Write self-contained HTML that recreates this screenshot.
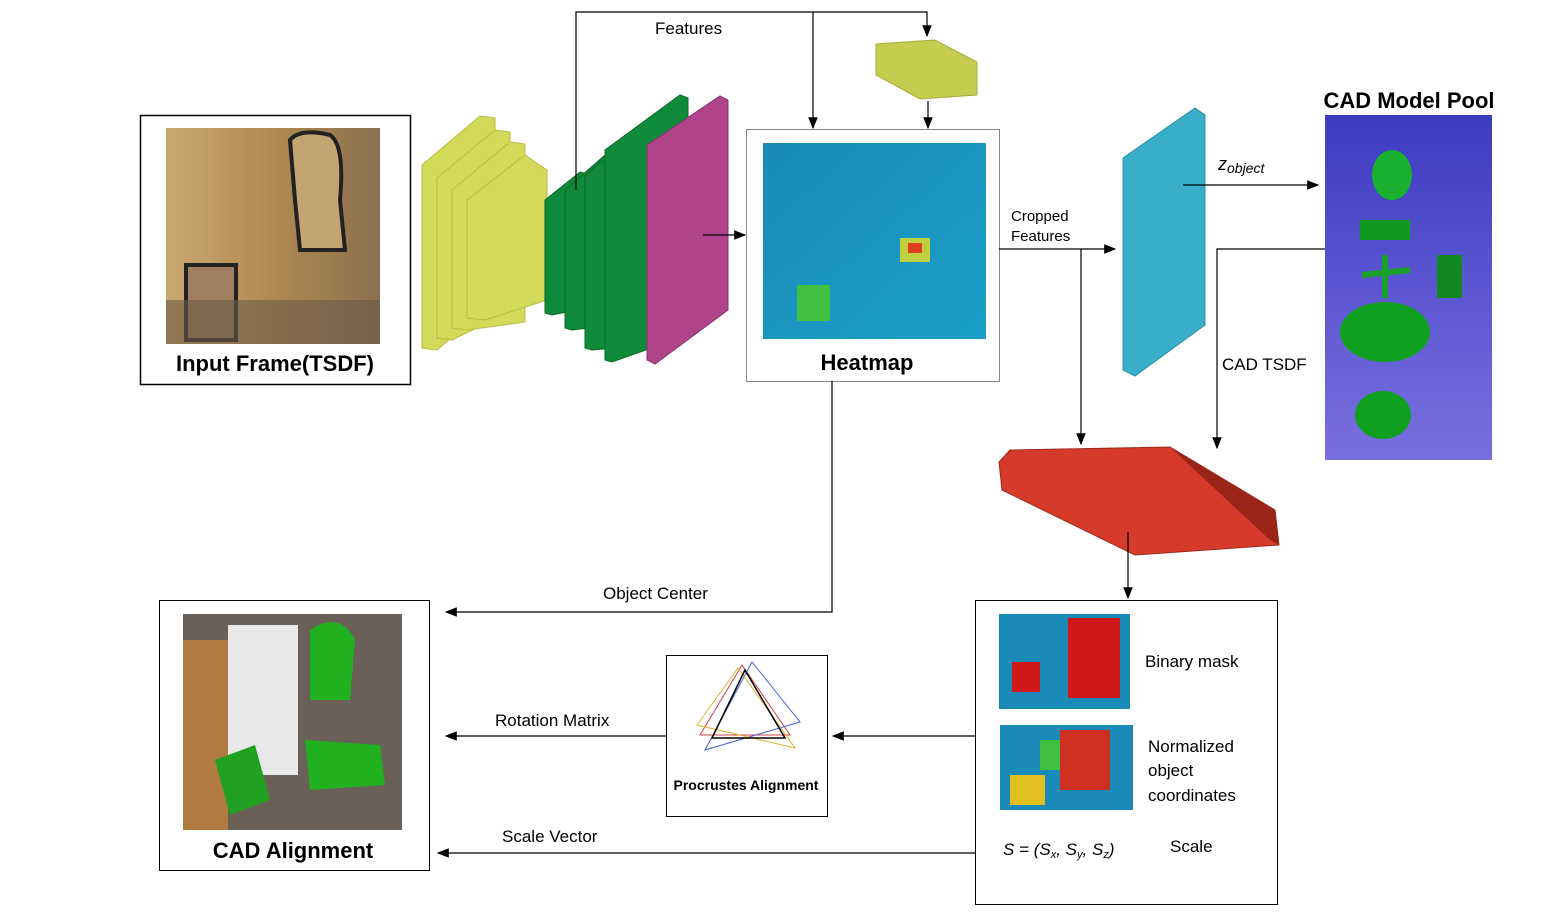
<!DOCTYPE html>
<html><head><meta charset="utf-8"><style>
body{margin:0;background:#fff;width:1559px;height:912px;overflow:hidden;font-family:"Liberation Sans",sans-serif}
svg text{font-family:"Liberation Sans",sans-serif}
</style></head><body>
<svg width="1559" height="912" viewBox="0 0 1559 912">
<defs>
<marker id="ar" markerWidth="10" markerHeight="8" refX="9" refY="4" orient="auto"><path d="M0,0L10,4L0,8z" fill="#000"/></marker>
<linearGradient id="pool" x1="0" y1="0" x2="0" y2="1"><stop offset="0" stop-color="#3c3cc0"/><stop offset="1" stop-color="#7a6fe0"/></linearGradient>
<linearGradient id="sand" x1="0" y1="0" x2="1" y2="0"><stop offset="0" stop-color="#c9a870"/><stop offset="0.5" stop-color="#b08a50"/><stop offset="1" stop-color="#8a7050"/></linearGradient>
<linearGradient id="heat" x1="0" y1="0" x2="1" y2="1"><stop offset="0" stop-color="#1a8ab8"/><stop offset="1" stop-color="#1aa0c8"/></linearGradient>
</defs>

<!-- Input frame -->
<g>
<rect x="140.5" y="115.5" width="270" height="269" fill="#fff" stroke="#000" stroke-width="1.5"/>
<rect x="166" y="128" width="214" height="216" fill="url(#sand)"/>
<path d="M290,140 Q300,128 330,135 Q345,145 340,200 L345,250 L300,250 L295,200Z" fill="#c4a470" stroke="#222" stroke-width="4"/>
<rect x="186" y="265" width="50" height="75" fill="#a08060" stroke="#222" stroke-width="4"/>
<rect x="166" y="300" width="214" height="44" fill="#6a5a48" opacity="0.6"/>
<text x="275" y="371" font-size="22" font-weight="bold" text-anchor="middle">Input Frame(TSDF)</text>
</g>

<!-- yellow encoder slabs -->
<g fill="#d4d95a" stroke="#b8bd40">
<path d="M422,165 L480,116 L495,118 L495,300 L437,350 L422,348Z"/>
<path d="M437,178 L495,130 L510,132 L510,312 L452,340 L437,338Z"/>
<path d="M452,190 L510,142 L525,144 L525,322 L467,330 L452,328Z"/>
<path d="M467,200 L525,155 L547,170 L547,300 L485,320 L467,318Z"/>
</g>
<!-- green -->
<g fill="#0e8a3a" stroke="#0a6a2a">
<path d="M545,200 L580,172 L587,174 L587,308 L552,315 L545,313Z"/>
<path d="M565,190 L605,155 L612,157 L612,325 L572,330 L565,328Z"/>
<path d="M585,175 L640,130 L648,132 L648,345 L592,350 L585,348Z"/>
<path d="M605,150 L680,95 L688,98 L688,335 L612,362 L605,360Z"/>
</g>
<path d="M647,145 L720,96 L728,100 L728,310 L655,364 L647,360Z" fill="#b0448a" stroke="#8a3070"/>

<!-- yellow small block -->
<path d="M876,44 L935,40 L977,62 L977,95 L920,99 L876,75Z" fill="#c6cc50" stroke="#a8ae38"/>

<!-- Heatmap -->
<g>
<rect x="746.5" y="129.5" width="253" height="252" fill="#fff" stroke="#888"/>
<rect x="763" y="143" width="223" height="196" fill="url(#heat)"/>
<rect x="797" y="285" width="33" height="36" fill="#40c040"/>
<rect x="900" y="238" width="30" height="24" fill="#c0d040"/>
<rect x="908" y="243" width="14" height="10" fill="#e04020"/>
<text x="867" y="370" font-size="22" font-weight="bold" text-anchor="middle">Heatmap</text>
</g>

<!-- Cyan slab -->
<path d="M1123,158 L1195,108 L1205,115 L1205,325 L1135,376 L1123,370Z" fill="#38aec8" stroke="#2890a8"/>

<!-- CAD pool -->
<g>
<rect x="1325" y="115" width="167" height="345" fill="url(#pool)"/>
<ellipse cx="1392" cy="175" rx="20" ry="25" fill="#1ab030"/>
<rect x="1360" y="220" width="50" height="20" fill="#119a20"/>
<rect x="1437" y="255" width="25" height="43" fill="#108a20"/>
<path d="M1362,275 L1410,270 M1385,255 L1385,298" stroke="#18a028" stroke-width="6"/>
<ellipse cx="1385" cy="332" rx="45" ry="30" fill="#10a020"/>
<ellipse cx="1383" cy="415" rx="28" ry="24" fill="#10a020"/>
<text x="1409" y="108" font-size="22" font-weight="bold" text-anchor="middle">CAD Model Pool</text>
</g>

<!-- Red slab -->
<path d="M999,462 L1010,450 L1170,447 L1275,510 L1279,545 L1135,555 L1002,490Z" fill="#d63a2a" stroke="#a02a1e"/>
<path d="M1170,447 L1275,510 L1279,545 L1270,540Z" fill="#9a2418"/>

<!-- Right bottom box -->
<g>
<rect x="975.5" y="600.5" width="302" height="304" fill="#fff" stroke="#000"/>
<rect x="999" y="614" width="131" height="95" fill="#1a8ab8"/>
<rect x="1068" y="618" width="52" height="80" fill="#d01818"/>
<rect x="1012" y="662" width="28" height="30" fill="#d01818"/>
<rect x="1000" y="725" width="133" height="85" fill="#1a8ab8"/>
<rect x="1060" y="730" width="50" height="60" fill="#d03020"/>
<rect x="1010" y="775" width="35" height="30" fill="#e0c020"/>
<rect x="1040" y="740" width="20" height="30" fill="#40c040"/>
<text x="1145" y="667" font-size="17">Binary mask</text>
<text x="1148" y="752" font-size="17">Normalized</text>
<text x="1148" y="776" font-size="17">object</text>
<text x="1148" y="801" font-size="17">coordinates</text>
<text x="1003" y="855" font-size="17" font-style="italic" font-family="Liberation Serif">S = (S<tspan font-size="11" dy="3">x</tspan><tspan dy="-3">, S</tspan><tspan font-size="11" dy="3">y</tspan><tspan dy="-3">, S</tspan><tspan font-size="11" dy="3">z</tspan><tspan dy="-3">)</tspan></text>
<text x="1170" y="852" font-size="17">Scale</text>
</g>

<!-- Procrustes -->
<g>
<rect x="666.5" y="655.5" width="161" height="161" fill="#fff" stroke="#000"/>
<path d="M742,665 L700,735 L790,735Z" fill="none" stroke="#d04040"/>
<path d="M752,662 L705,750 L800,722Z" fill="none" stroke="#4060d0"/>
<path d="M738,668 L697,725 L795,748Z" fill="none" stroke="#e0b030"/>
<path d="M745,670 L712,738 L785,738Z" fill="none" stroke="#000" stroke-width="1.5"/>
<text x="746" y="790" font-size="14" font-weight="bold" text-anchor="middle">Procrustes Alignment</text>
</g>

<!-- CAD alignment -->
<g>
<rect x="159.5" y="600.5" width="270" height="270" fill="#fff" stroke="#000"/>
<rect x="183" y="614" width="219" height="216" fill="#6a6058"/>
<rect x="183" y="640" width="45" height="190" fill="#b07a40"/>
<rect x="228" y="625" width="70" height="150" fill="#e8e8e8"/>
<path d="M310,630 Q340,610 355,640 L350,700 L310,700Z" fill="#20b020"/>
<path d="M305,740 L380,745 L385,785 L310,790Z" fill="#20b020"/>
<path d="M215,760 L255,745 L270,800 L230,815Z" fill="#20a020"/>
<text x="293" y="858" font-size="22" font-weight="bold" text-anchor="middle">CAD Alignment</text>
</g>

<!-- arrows -->
<g stroke="#000" stroke-width="1.2" fill="none">
<path d="M576,190 L576,12 L927,12 L927,36" marker-end="url(#ar)"/>
<path d="M813,12 L813,128" marker-end="url(#ar)"/>
<path d="M928,101 L928,128" marker-end="url(#ar)"/>
<path d="M703,235 L745,235" marker-end="url(#ar)"/>
<path d="M999,249 L1115,249" marker-end="url(#ar)"/>
<path d="M1081,249 L1081,444" marker-end="url(#ar)"/>
<path d="M1183,185 L1318,185" marker-end="url(#ar)"/>
<path d="M1325,249 L1217,249 L1217,448" marker-end="url(#ar)"/>
<path d="M1128,532 L1128,598" marker-end="url(#ar)"/>
<path d="M832,381 L832,612 L446,612" marker-end="url(#ar)"/>
<path d="M975,736 L833,736" marker-end="url(#ar)"/>
<path d="M666,736 L446,736" marker-end="url(#ar)"/>
<path d="M975,853 L438,853" marker-end="url(#ar)"/>
</g>
<text x="655" y="34" font-size="17">Features</text>
<text x="1011" y="221" font-size="15">Cropped</text>
<text x="1011" y="241" font-size="15">Features</text>
<text x="1218" y="170" font-size="18" font-style="italic" font-family="Liberation Serif">z<tspan font-size="14" dy="3">object</tspan></text>
<text x="1222" y="370" font-size="17">CAD TSDF</text>
<text x="603" y="599" font-size="17">Object Center</text>
<text x="495" y="726" font-size="17">Rotation Matrix</text>
<text x="502" y="842" font-size="17">Scale Vector</text>
</svg>
</body></html>
